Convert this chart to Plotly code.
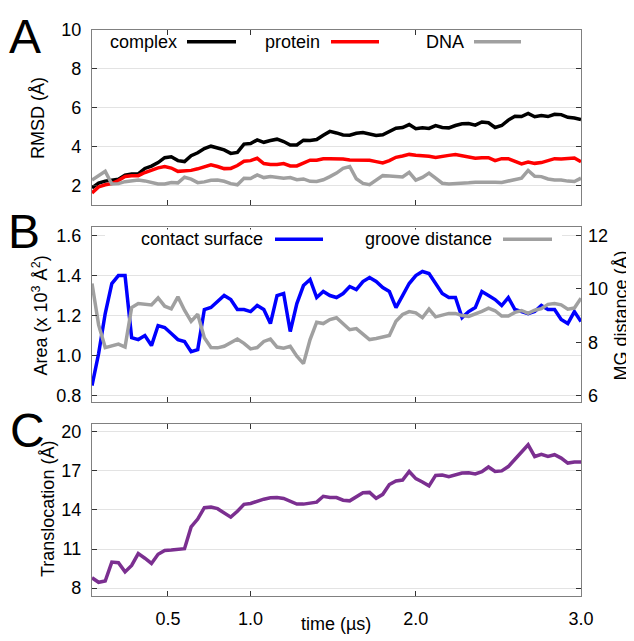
import plotly.graph_objects as go

# ---------------- data ----------------
time_us = [0.04, 0.08, 0.12, 0.16, 0.20, 0.24, 0.28, 0.32, 0.36, 0.40,
           0.44, 0.48, 0.52, 0.56, 0.60, 0.64, 0.68, 0.72, 0.76, 0.80,
           0.84, 0.88, 0.92, 0.96, 1.00, 1.04, 1.08, 1.12, 1.16, 1.20,
           1.24, 1.28, 1.32, 1.36, 1.40, 1.44, 1.48, 1.52, 1.56, 1.60,
           1.64, 1.68, 1.72, 1.76, 1.80, 1.84, 1.88, 1.92, 1.96, 2.00,
           2.04, 2.08, 2.12, 2.16, 2.20, 2.24, 2.28, 2.32, 2.36, 2.40,
           2.44, 2.48, 2.52, 2.56, 2.60, 2.64, 2.68, 2.72, 2.76, 2.80,
           2.84, 2.88, 2.92, 2.96, 3.00]

rmsd_complex = [1.90, 2.15, 2.25, 2.28, 2.35, 2.55, 2.62, 2.62, 2.90, 3.02,
                3.20, 3.45, 3.50, 3.30, 3.25, 3.55, 3.70, 3.92, 4.04, 3.95,
                3.85, 3.67, 3.72, 4.15, 4.18, 4.36, 4.24, 4.33, 4.40, 4.28,
                4.10, 4.10, 4.35, 4.33, 4.38, 4.60, 4.80, 4.72, 4.62, 4.60,
                4.70, 4.74, 4.67, 4.59, 4.63, 4.78, 4.96, 5.00, 5.15, 4.94,
                4.99, 4.95, 5.10, 5.00, 4.98, 5.10, 5.19, 5.20, 5.12, 5.28,
                5.24, 5.00, 5.10, 5.38, 5.58, 5.56, 5.72, 5.55, 5.61, 5.56,
                5.68, 5.66, 5.52, 5.49, 5.41]

rmsd_protein = [1.64, 1.95, 2.06, 2.12, 2.28, 2.49, 2.53, 2.53, 2.69, 2.82,
                2.93, 3.00, 2.92, 2.75, 2.76, 2.80, 2.88, 3.00, 3.09, 3.00,
                2.89, 2.90, 3.05, 3.27, 3.30, 3.42, 3.15, 3.10, 3.10, 3.15,
                3.03, 3.03, 3.19, 3.32, 3.32, 3.40, 3.40, 3.40, 3.38, 3.33,
                3.32, 3.32, 3.32, 3.25, 3.18, 3.30, 3.47, 3.54, 3.62, 3.58,
                3.57, 3.52, 3.46, 3.53, 3.57, 3.61, 3.56, 3.48, 3.42, 3.45,
                3.45, 3.30, 3.40, 3.40, 3.27, 3.13, 3.23, 3.16, 3.20, 3.30,
                3.40, 3.38, 3.40, 3.43, 3.24]

rmsd_dna = [2.30, 2.55, 2.75, 2.10, 2.12, 2.22, 2.28, 2.30, 2.26, 2.18,
            2.10, 2.10, 2.18, 2.16, 2.45, 2.35, 2.17, 2.21, 2.29, 2.31,
            2.24, 2.12, 2.06, 2.40, 2.38, 2.57, 2.43, 2.48, 2.43, 2.40,
            2.43, 2.32, 2.36, 2.24, 2.23, 2.32, 2.48, 2.66, 2.90, 3.00,
            2.37, 2.13, 2.07, 2.30, 2.53, 2.51, 2.48, 2.46, 2.70, 2.30,
            2.44, 2.66, 2.40, 2.14, 2.10, 2.11, 2.13, 2.16, 2.19, 2.20,
            2.20, 2.19, 2.18, 2.26, 2.36, 2.40, 2.80, 2.50, 2.48, 2.36,
            2.31, 2.31, 2.25, 2.23, 2.40]

contact_area = [0.85, 1.01, 1.21, 1.36, 1.40, 1.40, 1.09, 1.08, 1.10, 1.05,
                1.15, 1.14, 1.11, 1.08, 1.07, 1.02, 1.03, 1.23, 1.24, 1.27,
                1.30, 1.28, 1.23, 1.23, 1.22, 1.25, 1.23, 1.16, 1.30, 1.31,
                1.12, 1.26, 1.35, 1.38, 1.29, 1.32, 1.30, 1.29, 1.31, 1.345,
                1.33, 1.37, 1.39, 1.37, 1.34, 1.32, 1.24, 1.30, 1.36, 1.40,
                1.42, 1.41, 1.36, 1.31, 1.29, 1.29, 1.19, 1.22, 1.24, 1.32,
                1.30, 1.28, 1.25, 1.29, 1.23, 1.22, 1.21, 1.22, 1.25, 1.23,
                1.23, 1.18, 1.16, 1.22, 1.17]

groove_dist = [10.2, 8.65, 7.80, 7.86, 7.93, 7.82, 9.30, 9.45, 9.42, 9.40,
               9.66, 9.35, 9.25, 9.70, 9.20, 8.78, 9.05, 8.17, 7.80, 7.79,
               7.85, 8.00, 8.12, 7.96, 7.75, 7.80, 8.03, 8.12, 7.82, 7.78,
               7.85, 7.48, 7.20, 8.10, 8.75, 8.70, 8.85, 8.92, 8.68, 8.47,
               8.51, 8.31, 8.10, 8.14, 8.20, 8.25, 8.79, 9.04, 9.15, 9.10,
               8.92, 9.24, 8.95, 9.01, 9.08, 9.08, 9.00, 8.97, 9.05, 9.16,
               9.28, 9.18, 8.98, 8.98, 9.12, 9.19, 9.08, 9.20, 9.26, 9.42,
               9.45, 9.40, 9.24, 9.28, 9.65]

translocation = [8.80, 8.45, 8.55, 10.00, 9.95, 9.25, 9.75, 10.65, 10.30, 9.90,
                 10.60, 10.90, 10.93, 10.97, 11.03, 12.70, 13.30, 14.18, 14.22, 14.10,
                 13.78, 13.45, 13.90, 14.43, 14.50, 14.68, 14.83, 14.93, 14.95, 14.88,
                 14.70, 14.45, 14.45, 14.55, 14.60, 15.05, 14.95, 14.95, 14.75, 14.70,
                 15.05, 15.33, 15.35, 14.90, 15.20, 15.95, 16.23, 16.30, 16.95, 16.40,
                 16.15, 15.85, 16.65, 16.68, 16.55, 16.70, 16.83, 16.85, 16.77, 16.93,
                 17.30, 16.95, 17.00, 17.33, 17.90, 18.45, 19.00, 18.10, 18.27, 18.10,
                 18.24, 17.98, 17.60, 17.68, 17.68]

x_tickvals = [0.5, 1.0, 2.0, 3.0]
x_ticktext = ["0.5", "1.0", "2.0", "3.0"]
rmsd_ticks = [2, 4, 6, 8, 10]
area_ticks = [0.8, 1.0, 1.2, 1.4, 1.6]
groove_ticks = [6, 8, 10, 12]
transl_ticks = [8, 11, 14, 17, 20]

# ---------------- styling ----------------
OFF = 8                      # default page body margin
WIN_W, WIN_H = 634, 641
W, H = WIN_W - OFF, WIN_H - OFF
# plot area in window pixels
PL, PR, PT, PB = 92, 581, 22, 601
ML, MR, MT, MB = PL - OFF, WIN_W - PR, PT - OFF, WIN_H - PB
PW = PR - PL
PH = PB - PT
FONT = "Liberation Sans, Arial, sans-serif"
FS = 18
FRAME = "#808080"
GRID = "#e3e3e3"
C_BLACK = "#000000"
C_RED = "#ff0000"
C_GRAY = "#a0a0a0"
C_BLUE = "#0000ff"
C_PURPLE = "#7b2f90"
LW = 3.5


def px_x(px):
    return (px - PL) / PW


def px_y(py):
    return (PB - py) / PH


fig = go.Figure()
fig.add_trace(go.Scatter(x=time_us, y=rmsd_complex, mode="lines", line=dict(color=C_BLACK, width=LW),
                         xaxis="x", yaxis="y", showlegend=False))
fig.add_trace(go.Scatter(x=time_us, y=rmsd_protein, mode="lines", line=dict(color=C_RED, width=LW),
                         xaxis="x", yaxis="y", showlegend=False))
fig.add_trace(go.Scatter(x=time_us, y=rmsd_dna, mode="lines", line=dict(color=C_GRAY, width=LW),
                         xaxis="x", yaxis="y", showlegend=False))
fig.add_trace(go.Scatter(x=time_us, y=groove_dist, mode="lines", line=dict(color=C_GRAY, width=LW),
                         xaxis="x2", yaxis="y3", showlegend=False))
fig.add_trace(go.Scatter(x=time_us, y=contact_area, mode="lines", line=dict(color=C_BLUE, width=LW),
                         xaxis="x2", yaxis="y2", showlegend=False))
fig.add_trace(go.Scatter(x=time_us, y=translocation, mode="lines", line=dict(color=C_PURPLE, width=LW),
                         xaxis="x3", yaxis="y4", showlegend=False))

dom_A = [px_y(201.5), 1.0]
dom_B = [px_y(403), px_y(224)]
dom_C = [0.0, px_y(425)]

xcommon = dict(range=[0.04, 3.0], tickvals=x_tickvals, ticktext=x_ticktext, ticks="inside",
               ticklen=5, tickcolor="#333333", showline=True, linecolor=FRAME, linewidth=1.2,
               mirror="ticks", showgrid=False, zeroline=False, domain=[0, 1],
               tickfont=dict(family=FONT, size=FS, color="#000"))
ycommon = dict(ticks="inside", ticklen=5, tickcolor="#333333", showline=True, linecolor=FRAME,
               linewidth=1.2, showgrid=True, gridcolor=GRID, gridwidth=1, zeroline=False,
               tickfont=dict(family=FONT, size=FS, color="#000"), ticklabelstandoff=6)

fig.update_layout(
    width=W, height=H,
    margin=dict(l=ML, r=MR, t=MT, b=MB, pad=0),
    paper_bgcolor="white", plot_bgcolor="white",
    font=dict(family=FONT, size=FS, color="#000"),
    showlegend=False,
    xaxis=dict(**xcommon, anchor="y", showticklabels=False),
    xaxis2=dict(**xcommon, anchor="y2", showticklabels=False),
    xaxis3=dict(**xcommon, anchor="y4", showticklabels=True, ticklabelstandoff=6),
    yaxis=dict(**ycommon, domain=dom_A, range=[1, 10], tickvals=rmsd_ticks, mirror="ticks", anchor="x"),
    yaxis2=dict(**ycommon, domain=dom_B, range=[0.766, 1.64], tickvals=area_ticks,
                ticktext=["%.1f" % v for v in area_ticks], mirror=True, anchor="x2"),
    yaxis3=dict(ticks="inside", ticklen=5, tickcolor="#333333", showline=False, showgrid=False,
                zeroline=False, overlaying="y2", side="right", anchor="x2",
                range=[5.745, 12.3], tickvals=groove_ticks, ticklabelstandoff=6,
                tickfont=dict(family=FONT, size=FS, color="#000")),
    yaxis4=dict(**ycommon, domain=dom_C, range=[7.4, 20.6], tickvals=transl_ticks, mirror="ticks", anchor="x3"),
)

ann = []


def text(px, py, s, size=FS, angle=0, xanchor="center"):
    ann.append(dict(x=px_x(px), y=px_y(py), xref="paper", yref="paper", text=s, showarrow=False,
                    xanchor=xanchor, yanchor="middle", textangle=angle,
                    font=dict(family=FONT, size=size, color="#000")))


# panel labels
text(25, 29, "A", size=48)
text(24, 228, "B", size=48)
text(27, 432, "C", size=48)
# axis titles
text(38, 112, "RMSD (Å)", angle=-90)
text(40, 314, "Area (x 10<sup>3</sup> Å<sup>2</sup>)", angle=-90)
text(621, 314, "MG distance (Å)", angle=-90)
text(48, 512, "Translocation (Å)", angle=-90)
text(336, 630, "time (µs)")

shapes = []
# white box behind legend in panel B
shapes.append(dict(type="rect", xref="paper", yref="paper", x0=px_x(105), x1=px_x(562),
                   y0=px_y(246), y1=px_y(226), fillcolor="white", line=dict(width=0), layer="above"))

legend_items = [
    ("complex", C_BLACK, 179, 187, 236, 34),
    ("protein", C_RED, 322, 331, 379, 34),
    ("DNA", C_GRAY, 466, 474, 521, 34),
    ("contact surface", C_BLUE, 265, 275, 323, 236),
    ("groove distance", C_GRAY, 494, 503, 552, 236),
]
for label, col, tx, l0, l1, py in legend_items:
    text(tx, py, label, xanchor="right")
    shapes.append(dict(type="line", xref="paper", yref="paper", x0=px_x(l0), x1=px_x(l1),
                       y0=px_y(py), y1=px_y(py), line=dict(color=col, width=LW), layer="above"))

fig.update_layout(annotations=ann, shapes=shapes)
fig.write_html("out.html")
